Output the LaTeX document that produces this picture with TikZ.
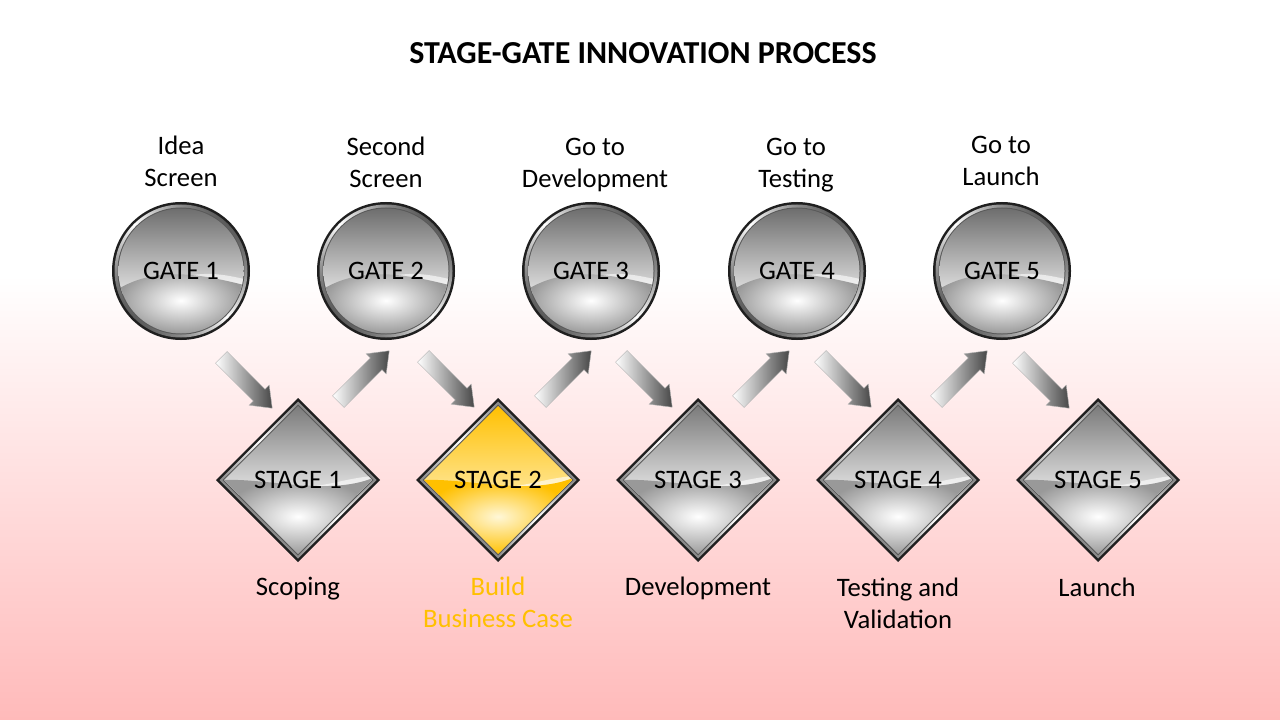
\documentclass[tikz,border=0pt]{standalone}
\usepackage{fontspec}
\setmainfont{Carlito}
\usetikzlibrary{shapes.arrows}

\definecolor{stageyellow}{RGB}{255,192,0}
\definecolor{ylight}{RGB}{255,230,150}
\definecolor{ypale}{RGB}{255,247,215}
\definecolor{bgpink}{RGB}{255,186,186}

\begin{document}
\begin{tikzpicture}
  [x=0.75pt,y=-0.75pt,
   txt/.style={inner sep=0pt,font=\fontsize{20}{24}\selectfont},
   lbl/.style={txt,align=center,anchor=north},
   garrow/.style={single arrow,minimum height=54pt,inner sep=6pt,
     single arrow head extend=4.5pt,single arrow tip angle=75,
     draw=gray!60,line width=0.3pt,left color=white,right color=black!72}]

  % background
  \fill[white] (0,0) rectangle (1280,720);
  \shade[top color=white,bottom color=bgpink] (0,275) rectangle (1280,720);
  \useasboundingbox (0,0) rectangle (1280,720);

  \node[txt,font=\fontsize{24}{28}\selectfont\bfseries] (title) at (643,53) {STAGE-GATE INNOVATION PROCESS};

  % gates
  \foreach \i/\x in {1/181,2/386,3/591,4/797,5/1002}{
    \begin{scope}[shift={(\x,271)}]
      \fill[black!88] (0,0) circle (69);
      \shade[top color=black!65,bottom color=black!65,middle color=white,shading angle=-45] (0,0) circle (66.5);
      \fill[black!65] (0,0) circle (63.5);
      \begin{scope}
        \clip (0,0) circle (62.5);
        \shade[top color=black!57,bottom color=black!12] (-63,-63) rectangle (63,22);
        \fill[white,opacity=.6] (-10,10) .. controls (20,-2) and (45,4) .. (63,8) -- (63,14) .. controls (40,12) and (20,4) .. cycle;
        \shade[inner color=white,outer color=black!40] (-63,18) .. controls (-25,-4) and (15,2) .. (63,14) -- (63,63) -- (-63,63) -- cycle;
      \end{scope}
    \end{scope}
    \node[txt] (g\i) at (\x,271) {GATE \i};
  }

  % stages
  \foreach \i/\x/\ca/\cb/\cc/\cd in {1/298/black!52/black!10/white/black!40,
      2/498/stageyellow/ylight/ypale/stageyellow,3/698/black!52/black!10/white/black!40,
      4/898/black!52/black!10/white/black!40,5/1098/black!52/black!10/white/black!40}{
    \begin{scope}[shift={(\x,480)}]
      \fill[black!88] (0,-82) -- (82,0) -- (0,82) -- (-82,0) -- cycle;
      \shade[top color=black!65,bottom color=black!65,middle color=white,shading angle=-45] (0,-78.5) -- (78.5,0) -- (0,78.5) -- (-78.5,0) -- cycle;
      \fill[black!65] (0,-75.5) -- (75.5,0) -- (0,75.5) -- (-75.5,0) -- cycle;
      \begin{scope}
        \clip (0,-74) -- (74,0) -- (0,74) -- (-74,0) -- cycle;
        \shade[top color=\ca,bottom color=\cb] (-75,-75) rectangle (75,14);
        \fill[white,opacity=.6] (0,8) .. controls (30,6) and (50,-2) .. (75,-4) -- (75,2) .. controls (50,4) and (30,14) .. cycle;
        \shade[inner color=\cc,outer color=\cd] (-75,0) .. controls (-30,-2) and (30,16) .. (75,-2) -- (75,75) -- (-75,75) -- cycle;
      \end{scope}
    \end{scope}
    \node[txt] (s\i) at (\x,480) {STAGE \i};
  }

  % arrows
  \foreach \n/\x/\y/\r in {1/243/379/-45,2/360/380/45,3/445/378/-45,4/562/380/45,
      5/643/378/-45,6/760/380/45,7/842/378/-45,8/958/380/45,9/1040/379/-45}
    \node[garrow,rotate=\r] (a\n) at (\x,\y) {};

  % labels
  \node[lbl] (gl1) at (181,136) {Idea\\Screen};
  \node[lbl] (gl2) at (386,137) {Second\\Screen};
  \node[lbl] (gl3) at (595,138) {Go to\\Development};
  \node[lbl] (gl4) at (796,138) {Go to\\Testing};
  \node[lbl] (gl5) at (1001,136) {Go to\\Launch};

  \node[lbl] (sl1) at (298,577) {Scoping};
  \node[lbl,text=stageyellow] (sl2) at (498,577) {Build\\Business Case};
  \node[lbl] (sl3) at (698,577) {Development};
  \node[lbl] (sl4) at (898,578) {Testing and\\Validation};
  \node[lbl] (sl5) at (1097,578) {Launch};

\end{tikzpicture}
\end{document}
